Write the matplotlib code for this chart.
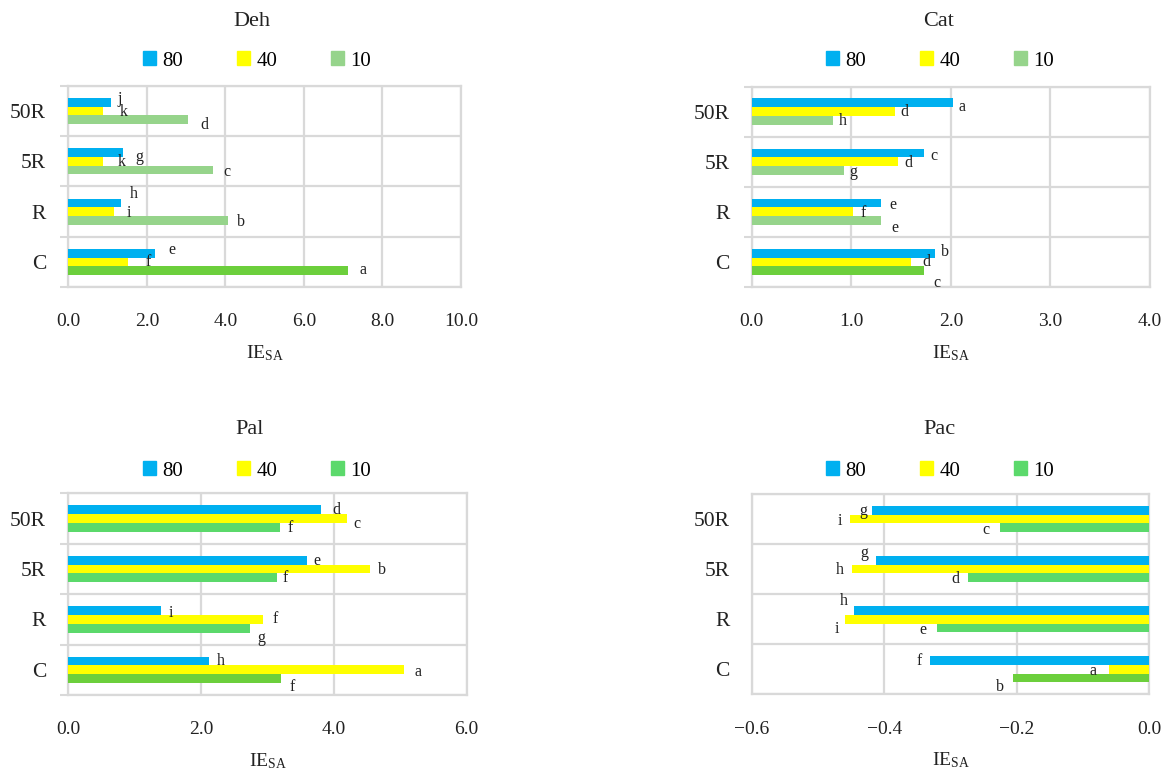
import matplotlib
matplotlib.use("Agg")
import matplotlib.pyplot as plt
from matplotlib.patches import Rectangle
import numpy as np

plt.rcParams['font.family'] = ['Liberation Serif', 'DejaVu Serif']
plt.rcParams['mathtext.fontset'] = 'custom'
plt.rcParams['mathtext.rm'] = 'Liberation Serif'
plt.rcParams['mathtext.it'] = 'Liberation Serif:italic'

categories = ["C", "R", "5R", "50R"]
series = ["80", "40", "10"]

# values per panel, order of categories: C, R, 5R, 50R
deh_80 = [2.20, 1.34, 1.40, 1.09]
deh_40 = [1.51, 1.16, 0.88, 0.88]
deh_10 = [7.12, 4.06, 3.68, 3.05]
deh_l80 = ["e", "h", "g", "j"]
deh_l40 = ["f", "i", "k", "k"]
deh_l10 = ["a", "b", "c", "d"]

cat_80 = [1.84, 1.30, 1.73, 2.02]
cat_40 = [1.60, 1.02, 1.47, 1.44]
cat_10 = [1.73, 1.30, 0.93, 0.82]
cat_l80 = ["b", "e", "c", "a"]
cat_l40 = ["d", "f", "d", "d"]
cat_l10 = ["c", "e", "g", "h"]

pal_80 = [2.12, 1.40, 3.59, 3.81]
pal_40 = [5.06, 2.93, 4.54, 4.19]
pal_10 = [3.21, 2.73, 3.15, 3.19]
pal_l80 = ["h", "i", "e", "d"]
pal_l40 = ["a", "f", "b", "c"]
pal_l10 = ["f", "g", "f", "f"]

pac_80 = [-0.331, -0.446, -0.412, -0.418]
pac_40 = [-0.061, -0.459, -0.449, -0.452]
pac_10 = [-0.206, -0.320, -0.273, -0.225]
pac_l80 = ["f", "h", "g", "g"]
pac_l40 = ["a", "i", "h", "i"]
pac_l10 = ["b", "e", "d", "c"]

deh_xticks = [0, 2, 4, 6, 8, 10]
cat_xticks = [0, 1, 2, 3, 4]
pal_xticks = [0, 2, 4, 6]
pac_xticks = [-0.6, -0.4, -0.2, 0.0]

# label offsets in pixels (dx, dy down-positive), styling only
deh_off = {
    "80": [(14, -3), (9, -9), (12, 4), (6, -3)],
    "40": [(18, 0), (13, 1), (15, 1), (17, 1)],
    "10": [(12, -1), (9, 2), (11, 2), (12, 5)],
}
cat_off = {
    "80": [(6, -1), (8, 2), (6, 3), (6, 4)],
    "40": [(11, 0), (7, 1), (6, 1), (5, 0)],
    "10": [(9, 12), (10, 7), (5, 2), (5, 1)],
}
pal_off = {
    "80": [(8, 0), (7, 2), (7, 1), (11, 0)],
    "40": [(10, 2), (10, 0), (8, 1), (7, 5)],
    "10": [(8, 8), (8, 10), (5, 0), (7, 1)],
}
pac_off = {
    "80": [(-8, 0), (-6, -9), (-8, -7), (-5, 1)],
    "40": [(-12, 2), (-6, 10), (-8, 1), (-8, 2)],
    "10": [(-9, 9), (-11, 2), (-9, 1), (-11, 2)],
}

BLUE = "#00B0F0"
YELLOW = "#FFFF00"
GREEN_LIGHT = "#96D48B"
GREEN_MID = "#5BD96B"
GREEN_C = "#6CCF3C"
GRID = "#D9D9D9"
TXT = "#222222"

W, H = 1169, 774
fig = plt.figure(figsize=(W / 100, H / 100), dpi=100)


def fr(x0, y0, x1, y1):
    return [x0 / W, 1 - y1 / H, (x1 - x0) / W, (y1 - y0) / H]


def panel(rect, title, title_xy, leg_xy, v80, v40, v10, l80, l40, l10,
          xticks, offs, green, neg=False):
    ax = fig.add_axes(fr(*rect))
    y = np.arange(len(categories))
    h = 0.174
    greens = [GREEN_C] + [green] * (len(categories) - 1)
    ax.barh(y + h, v80, height=h, color=BLUE, zorder=3)
    ax.barh(y, v40, height=h, color=YELLOW, zorder=3)
    ax.barh(y - h, v10, height=h, color=greens, zorder=3)
    for vals, labs, yy, key in [(v80, l80, y + h, "80"), (v40, l40, y, "40"), (v10, l10, y - h, "10")]:
        for i, (v, lab) in enumerate(zip(vals, labs)):
            dx, dy = offs[key][i]
            ax.annotate(lab, xy=(v, yy[i]), xytext=(dx, -dy), textcoords="offset pixels",
                        ha="right" if neg else "left", va="center", fontsize=11.5,
                        color=TXT, zorder=4)
    ax.set_ylim(-0.5, len(categories) - 0.5)
    ax.set_xlim(xticks[0], xticks[-1])
    ax.set_xticks(xticks)
    ax.set_xticklabels([f"{t:.1f}".replace("-", "\u2212") for t in xticks], fontsize=14)
    ax.set_yticks(np.arange(-0.5, len(categories), 1.0))
    ax.set_yticklabels([])
    ax.set_yticks(y, minor=True)
    ax.set_yticklabels(categories, minor=True, fontsize=15.5)
    ax.tick_params(axis="y", which="major", length=0 if neg else 6, color=GRID, width=1.5, direction="out")
    ax.tick_params(axis="y", which="minor", length=0, pad=16, labelcolor=TXT)
    ax.tick_params(axis="x", length=0, pad=19, labelcolor=TXT)
    ax.grid(True, which="major", color=GRID, linewidth=1.6, zorder=0)
    for s in ax.spines.values():
        s.set_color(GRID)
        s.set_linewidth(1.6)
    ax.set_xlabel(r"IE$_{\mathrm{SA}}$", fontsize=14, labelpad=9, color=TXT)
    fig.text(title_xy[0] / W, 1 - title_xy[1] / H, title, ha="center", va="center",
             fontsize=16, color=TXT)
    handles = [Rectangle((0, 0), 1, 1, color=c) for c in (BLUE, YELLOW, green)]
    fig.legend(handles, series, loc="center", bbox_to_anchor=(leg_xy[0] / W, 1 - leg_xy[1] / H),
               ncol=3, frameon=False, fontsize=15, handlelength=0.62, handleheight=0.62,
               handletextpad=0.3, columnspacing=2.6, borderpad=0)
    return ax


panel((68.3, 86, 461, 287), "Deh", (252, 22), (257, 61),
      deh_80, deh_40, deh_10, deh_l80, deh_l40, deh_l10, deh_xticks, deh_off, GREEN_LIGHT)
panel((751.7, 86.5, 1150, 287), "Cat", (939, 22), (940, 61),
      cat_80, cat_40, cat_10, cat_l80, cat_l40, cat_l10, cat_xticks, cat_off, GREEN_LIGHT)
panel((68.3, 493.3, 466.7, 695), "Pal", (250, 430), (257, 471),
      pal_80, pal_40, pal_10, pal_l80, pal_l40, pal_l10, pal_xticks, pal_off, GREEN_MID)
panel((751.7, 494, 1149.3, 694.3), "Pac", (939, 430), (940, 471),
      pac_80, pac_40, pac_10, pac_l80, pac_l40, pac_l10, pac_xticks, pac_off, GREEN_MID, neg=True)

fig.savefig("out.png", dpi=100)
